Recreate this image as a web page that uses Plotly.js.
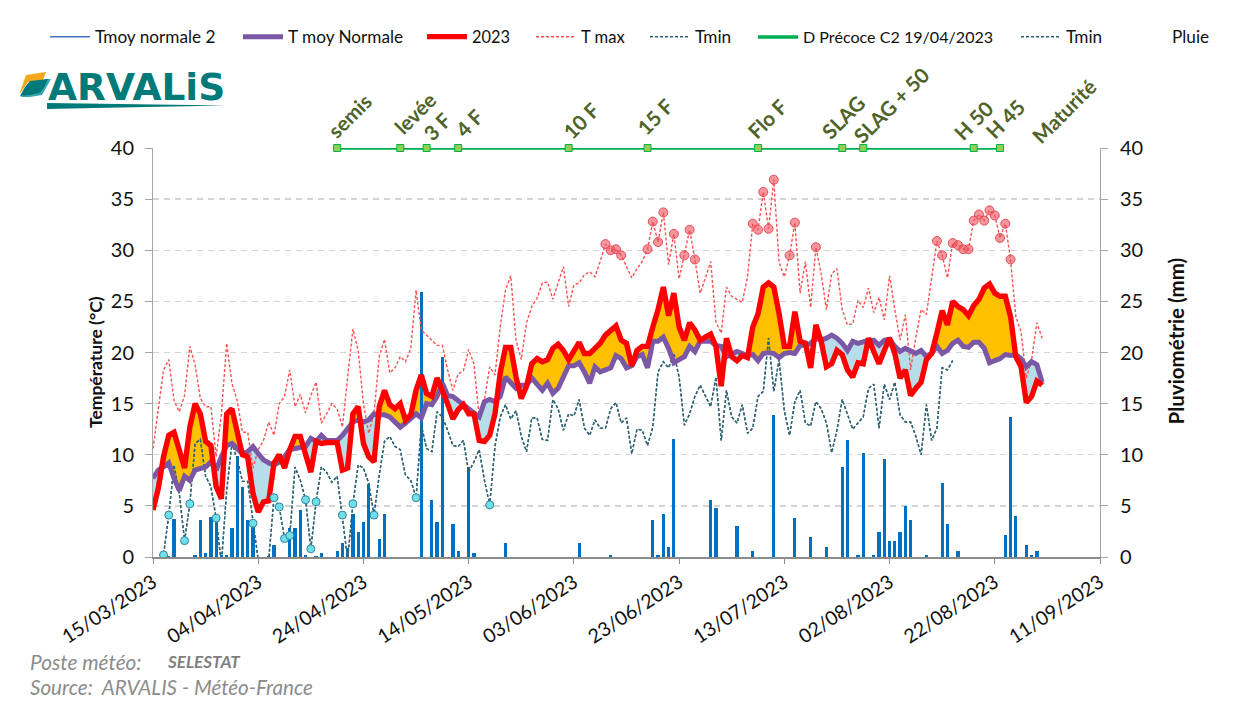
<!DOCTYPE html>
<html><head><meta charset="utf-8">
<script src="https://cdn.plot.ly/plotly-3.0.1.min.js"></script>
<style>html,body{margin:0;padding:0;background:#fff}#c{width:1237px;height:708px}</style>
</head><body><div id="c"></div>
<script>
const startDate = '2023-03-15';
const t2023 = [4.6,6.7,9.8,11.9,12.2,10.6,8.7,12.7,15.0,14.0,11.3,10.9,6.9,5.7,14.0,14.5,12.4,10.0,9.8,6.2,
 4.4,5.4,5.5,9.2,10.0,8.7,10.5,11.8,11.8,9.8,8.3,11.3,11.1,11.2,11.2,11.2,8.5,8.7,14.0,14.7,
 11.1,9.8,9.3,14.7,16.3,14.9,14.5,15.0,13.4,13.9,16.3,17.8,16.0,15.7,17.5,16.3,15.0,13.5,14.4,14.9,
 14.0,14.0,11.4,11.3,11.9,14.0,18.0,20.5,20.5,17.6,15.5,16.7,18.9,19.4,19.1,19.3,20.4,20.8,20.2,19.3,
 20.2,21.0,19.9,19.9,20.4,20.9,21.7,22.2,22.6,21.2,20.9,18.7,20.2,20.6,20.6,22.5,24.2,26.4,23.6,25.8,
 22.5,21.2,22.9,22.2,21.2,21.5,21.8,20.6,16.7,21.4,19.6,19.2,19.7,19.5,22.5,23.8,26.4,26.8,26.4,23.8,
 20.6,20.6,24.0,21.1,20.9,18.5,22.7,21.1,18.6,18.9,20.2,19.8,18.3,17.6,19.0,18.9,21.4,20.1,18.9,20.2,
 21.4,19.9,17.5,18.3,15.8,16.5,17.1,19.3,19.9,21.9,24.1,22.7,25.0,24.5,24.2,23.6,24.6,25.2,26.3,26.7,
 25.8,25.5,25.5,23.5,19.6,18.6,15.1,15.7,17.2,16.8];
const tNormale = [7.7,8.5,8.8,9.2,7.7,6.5,7.9,7.5,8.5,8.7,8.8,9.3,8.5,9.8,10.9,11.1,10.6,10.1,10.3,10.8,
 10.1,9.5,9.2,9.0,9.3,9.8,10.5,10.6,10.6,10.8,11.6,11.3,11.9,11.4,11.4,11.4,11.9,12.6,13.2,13.4,
 13.2,13.4,14.0,13.9,13.9,13.7,13.2,12.7,13.1,13.6,14.0,13.6,15.0,14.9,15.7,17.0,15.8,15.7,15.3,14.9,
 14.5,14.0,13.7,15.2,15.4,15.2,15.7,17.6,17.1,16.5,16.8,16.8,17.5,16.8,16.3,17.0,16.0,16.5,17.5,18.7,
 18.7,19.0,18.1,17.0,18.6,18.1,18.3,18.5,19.7,19.4,18.5,18.7,19.6,19.8,18.5,21.1,21.1,21.5,20.4,19.0,
 19.3,19.6,20.6,20.1,21.1,21.1,21.1,20.7,20.6,19.6,19.9,20.1,19.9,19.7,19.8,19.2,19.9,20.0,19.9,19.5,
 19.9,20.0,19.9,20.7,20.7,20.9,21.4,21.2,21.4,21.7,21.4,20.9,20.2,21.1,20.9,21.1,21.2,21.2,20.7,21.2,
 21.3,20.6,20.1,20.4,20.1,19.9,20.2,19.6,19.9,20.6,19.9,20.2,20.9,21.2,20.6,20.5,21.0,21.0,20.4,19.0,
 19.2,19.4,19.8,19.7,19.8,19.4,18.6,19.1,18.8,17.1];
const tMax = [10.6,14.4,18.3,19.3,15.3,14.2,15.8,20.6,18.8,15.5,14.7,14.7,9.8,14.0,20.9,17.0,15.3,12.2,12.2,8.7,
 10.5,11.4,13.2,11.9,15.0,15.7,18.3,14.7,15.9,14.1,15.8,17.1,13.1,14.0,15.0,14.5,12.7,17.6,22.3,20.2,
 15.0,12.1,14.0,19.6,21.3,18.0,18.5,19.6,19.1,20.4,26.1,22.2,21.7,21.2,20.7,20.7,18.3,16.3,17.9,18.2,
 20.3,18.9,13.7,15.4,18.6,17.8,22.5,26.1,27.5,21.2,19.3,22.9,24.5,25.3,26.8,26.9,25.2,26.8,28.4,24.5,
 26.6,26.8,27.6,27.9,27.4,28.9,30.6,30.0,30.1,29.5,28.4,27.3,28.2,28.9,30.1,32.8,30.8,33.7,28.6,31.6,
 27.2,29.5,32.0,29.1,25.8,27.3,28.9,23.0,21.9,26.4,25.5,25.2,24.9,27.4,32.6,32.0,35.7,32.1,36.9,28.8,
 27.4,29.5,32.7,25.8,28.9,24.4,30.3,27.7,24.2,27.7,28.2,24.2,22.7,22.8,25.1,24.4,26.3,23.9,25.4,23.2,
 27.5,24.2,21.2,23.7,18.3,21.5,24.2,23.7,27.4,30.9,29.5,27.3,30.7,30.5,30.1,30.1,32.9,33.5,32.9,33.9,
 33.4,31.2,32.6,29.1,23.5,22.0,17.5,19.3,22.9,21.4];
const tMin = [-1,-1,0.2,4.1,9.0,6.2,1.6,5.2,11.1,11.5,7.9,6.9,3.8,-0.6,6.5,11.1,9.6,7.4,7.4,3.3,
 -0.3,-2,-0.2,5.8,4.9,1.8,2.1,8.8,7.5,5.6,0.8,5.4,8.8,8.3,7.3,7.9,4.1,-0.2,5.2,9.0,
 8.7,7.2,4.1,8.0,11.3,11.8,10.8,10.5,8.0,7.5,5.8,12.9,10.6,10.3,14.2,13.7,12.4,10.9,10.8,11.4,
 8.3,9.3,10.5,7.5,5.1,10.8,13.7,14.9,13.5,14.3,11.8,10.3,13.6,13.6,11.5,11.4,15.4,14.5,12.4,14.0,
 13.8,15.4,12.6,11.9,13.4,12.6,12.6,14.5,15.1,13.1,13.6,10.1,12.5,12.4,10.9,12.7,18.1,19.1,18.5,19.9,
 17.6,12.9,14.0,15.7,16.8,15.7,14.7,17.6,11.4,16.3,13.7,13.1,14.9,12.1,12.6,15.7,16.2,21.4,16.2,19.3,
 14.3,11.9,15.2,16.3,13.1,12.8,15.2,14.5,13.1,10.2,12.4,15.4,13.9,12.5,13.1,13.7,16.5,16.9,12.6,16.9,
 15.4,17.1,13.9,13.2,13.2,11.8,10.0,14.9,11.4,12.6,18.5,18.3,19.2];
const pluie = [0,0,0,0.1,3.7,0,0,0,0.2,3.6,0.4,3.9,4.0,0.2,0.2,2.8,9.9,6.8,3.6,3.6,
 0,0,0.1,1.2,0,0,2.8,2.8,4.6,0.2,0,0.1,0.4,0,0,0.6,1.4,0.9,4.2,2.4,
 3.4,7.1,0,1.8,4.2,0,0,0,0,0,0,25.9,0,5.6,3.4,19.6,0,3.2,0.6,0,
 8.8,0.4,0,0,0,0,0,1.4,0,0,0,0,0,0,0,0,0,0,0,0,
 0,1.4,0,0,0,0,0,0.2,0,0,0,0,0,0,0,3.6,0.2,4.2,1.0,11.5,
 0,0,0,0,0,0,5.6,4.8,0,0,0,3.0,0,0,0.6,0,0,0,13.9,0,
 0,0,3.8,0,0,2.0,0,0,1.0,0,0,8.8,11.4,0,0.2,10.2,0,0.2,2.4,9.6,
 1.6,1.6,2.4,5.0,3.6,0,0,0.2,0,0,7.2,3.2,0,0.6,0,0,0,0,0,0,
 0,0,2.2,13.7,4.0,0,1.2,0.2,0.6,0];
const stadeNoms = ['semis','levée','3 F','4 F','10 F','15 F','Flo F','SLAG','SLAG + 50','H 50','H 45'];
const stadeJours = [35,47,52,58,79,94,115,131,135,156,161];
const stadeY = [40,40,40,40,40,40,40,40,40,40,40];
const tickLabelsY = [0,5,10,15,20,25,30,35,40];

const DAY = 86400000, t0 = Date.parse(startDate+'T00:00:00Z');
const dd = d => new Date(t0 + d*DAY).toISOString().slice(0,10);
const dates = t2023.map((_,i)=>dd(i));
const L=153,R=1100,T=148,B=557;
const px = v => (v-L)/(R-L), py = v => (B-v)/(B-T);
const path = pts => 'M'+pts.map(p=>px(p[0]).toFixed(4)+','+py(p[1]).toFixed(4)).join('L')+'Z';

const FONT='Lato, sans-serif';
const leg = i => i===1?'legend':'legend'+i;
const legendBox = (x,size) => ({x:px(x),y:py(37),xanchor:'left',yanchor:'middle',orientation:'h',itemwidth:40,bgcolor:'rgba(0,0,0,0)',borderwidth:0,font:{family:FONT,size:size||17.2,color:'#111'},traceorder:'normal'});

const up = t2023.map((v,i)=>Math.max(v-tNormale[i],0)), dn = t2023.map((v,i)=>Math.max(tNormale[i]-v,0));
const traces = [
 {type:'bar',x:dates,y:up,base:tNormale,width:DAY,marker:{color:'#ffc000',line:{width:0}},showlegend:false,yaxis:'y',hoverinfo:'skip'},
 {type:'bar',x:dates,y:dn,base:t2023,width:DAY,marker:{color:'#b7dee8',line:{width:0}},showlegend:false,yaxis:'y',hoverinfo:'skip'},
 {type:'bar',x:dates,y:pluie,width:DAY*0.62,marker:{color:'#0070c0',line:{width:0}},showlegend:false,yaxis:'y2',name:'Pluie'},
 {type:'scatter',mode:'lines',x:dates,y:tMax,name:'T max',legend:leg(4),line:{color:'#ff5050',width:1.4,dash:'3px,2px'},yaxis:'y3'},
 {type:'scatter',mode:'lines',x:dates,y:tMin,name:'Tmin',legend:leg(5),line:{color:'#2f6473',width:1.4,dash:'3px,2px'},yaxis:'y3'},
 {type:'scatter',mode:'lines',x:dates,y:tMin,name:'Tmin',legend:leg(7),line:{color:'#2f6473',width:1.4,dash:'3px,2px'},yaxis:'y3'},
 {type:'scatter',mode:'lines',x:dates,y:tNormale,name:'Tmoy normale 2',legend:leg(1),line:{color:'#4472c4',width:1.5},yaxis:'y3'},
 {type:'scatter',mode:'lines',x:dates,y:tNormale,name:'T moy Normale',legend:leg(2),line:{color:'#7b58a6',width:5},yaxis:'y3'},
 {type:'scatter',mode:'lines',x:dates,y:t2023,name:'2023',legend:leg(3),line:{color:'#ff0000',width:5.4},yaxis:'y3'},
 {type:'scatter',mode:'markers',x:dates,y:tMax.map(v=>v>=29?v:null),showlegend:false,marker:{size:9,color:'rgba(240,80,90,0.6)',line:{color:'#e0505a',width:1}},yaxis:'y3',name:'T max'},
 {type:'scatter',mode:'markers',x:dates,y:tMin.map(v=>(v<=6&&v>0)?v:null),showlegend:false,marker:{size:8,color:'#6fe0ea',line:{color:'#31859c',width:1}},yaxis:'y3',name:'Tmin'},
 {type:'scatter',mode:'lines',x:stadeJours.map(dd),y:stadeY,name:'D Précoce C2 19/04/2023',legend:leg(6),cliponaxis:false,line:{color:'#00b050',width:3.6},yaxis:'y3'},
 {type:'scatter',mode:'markers',x:stadeJours.map(dd),y:stadeY,showlegend:false,cliponaxis:false,marker:{symbol:'square',size:7,color:'#92d050',line:{color:'#00b050',width:1}},yaxis:'y3',name:'Stades'},
 {type:'scatter',mode:'lines',x:[dates[0]],y:[0],name:'Pluie',legend:leg(8),line:{width:0,color:'rgba(0,0,0,0)'},yaxis:'y3',hoverinfo:'skip'}
];

// label placement (pixels from each stage marker to the centre of its rotated label)
const decalX = [12,15,10,11,12,7,9,1,28,0,5];
const decalY = [32,35,21,25,27,31,29,31,43,28,29];
const stageFont={family:FONT,size:20.5,color:'#4f6228'};
const stageAnn = stadeNoms.map((s,i)=>({x:dd(stadeJours[i]),y:40,xref:'x',yref:'y',text:'<b>'+s+'</b>',textangle:-45,showarrow:false,
  xanchor:'center',yanchor:'middle',xshift:decalX[i],yshift:decalY[i],font:stageFont}));
const paperText=(x,y,text,font,anchor,angle)=>({x:px(x),y:py(y),xref:'paper',yref:'paper',text,showarrow:false,xanchor:anchor||'left',yanchor:'middle',font,textangle:angle||0});
const annotations = stageAnn.concat([
 paperText(1064,111,'<b>Maturité</b>',stageFont,'center',-45),
 paperText(95,362,'<b>Température (°C)</b>',{family:FONT,size:17.5,color:'#111'},'center',-90),
 paperText(1175,341.5,'<b>Pluviométrie (mm)</b>',{family:FONT,size:20.5,color:'#111'},'center',-90),
 paperText(28,661,'<i>Poste météo:</i>',{family:FONT,size:20.8,color:'#8c8c8c'}),
 paperText(165,661,'<b><i>SELESTAT</i></b>',{family:FONT,size:17,color:'#7f7f7f'}),
 paperText(28,687,'<i>Source:  ARVALIS - Météo-France</i>',{family:FONT,size:20.6,color:'#8c8c8c'}),
 paperText(46,86.5,'<b>ARVALiS</b>',{family:'DejaVu Sans, sans-serif',size:37.5,color:'#007a78'})
]);
const shapes = [
 {type:'path',xref:'paper',yref:'paper',path:path([[26,75],[46,72],[43,80],[28,82],[19,95]]),fillcolor:'#f5a81c',line:{width:0}},
 {type:'path',xref:'paper',yref:'paper',path:path([[45,79],[51,79],[46,88],[42,95],[30,97],[20,97],[26,94]]),fillcolor:'#35a6b8',line:{width:0}},
 {type:'path',xref:'paper',yref:'paper',path:path([[30,81],[48,79],[45,86],[40,93],[30,95],[20,96],[25,87]]),fillcolor:'#007a78',line:{width:0}},
 {type:'path',xref:'paper',yref:'paper',path:path([[47,103],[120,104],[226,105.5],[120,107.5],[47,109]]),fillcolor:'#007a78',line:{width:0}}
];

const layout = {
 width:1237,height:708,paper_bgcolor:'#fff',plot_bgcolor:'#fff',
 margin:{l:L,r:1237-R,t:T,b:708-B,autoexpand:false,pad:0},
 barmode:'overlay',bargap:0,
 font:{family:FONT,color:'#111'},
 xaxis:{type:'date',range:[startDate,'2023-09-11'],tick0:startDate,dtick:20*DAY,tickformat:'%d/%m/%Y',tickangle:-33,
   tickfont:{family:FONT,size:19.5,color:'#111'},ticks:'outside',ticklen:5,tickcolor:'#8c8c8c',showline:true,linecolor:'#8c8c8c',linewidth:1.5,showgrid:false,zeroline:false,automargin:false},
 yaxis:{range:[0,40],tickvals:tickLabelsY,ticks:'outside',ticklen:7,tickcolor:'#a6a6a6',tickfont:{family:FONT,size:20,color:'#111'},ticklabelstandoff:7,
   showline:true,linecolor:'#a6a6a6',linewidth:1,showgrid:true,gridcolor:'#d4d4d4',griddash:'6px,5px',gridwidth:1.3,zeroline:false,automargin:false},
 yaxis2:{range:[0,40],tickvals:tickLabelsY,overlaying:'y',side:'right',anchor:'x',ticks:'outside',ticklen:7,tickcolor:'#a6a6a6',tickfont:{family:FONT,size:20,color:'#111'},ticklabelstandoff:8,
   showline:true,linecolor:'#a6a6a6',linewidth:1,showgrid:false,zeroline:false,automargin:false},
 yaxis3:{range:[0,40],overlaying:'y',matches:'y',visible:false},
 legend:legendBox(45),legend2:legendBox(238),legend3:legendBox(422,16.4),legend4:legendBox(531,16.6),
 legend5:legendBox(645),legend6:legendBox(753,16.1),legend7:legendBox(1016),legend8:legendBox(1122),
 annotations,shapes,showlegend:true
};
Plotly.newPlot('c',traces,layout,{displayModeBar:false,staticPlot:true});
</script></body></html>
